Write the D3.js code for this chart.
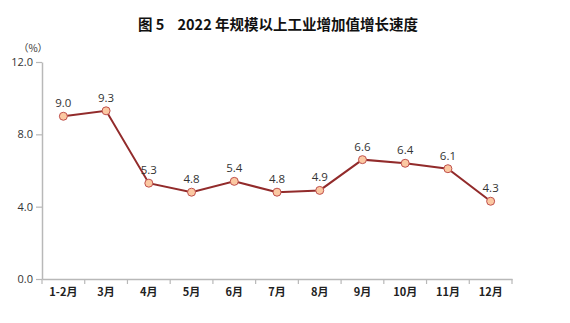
<!DOCTYPE html>
<html>
<head>
<meta charset="utf-8">
<script src="https://cdn.jsdelivr.net/npm/d3@7"></script>
<style>
  html, body { margin: 0; padding: 0; background: #fff; }
  svg { display: block; }
</style>
</head>
<body>
<div id="chart"></div>
<script>
// Monthly growth of value added of industry above designated size, 2022 (%)
const months = ["1-2月", "3月", "4月", "5月", "6月", "7月", "8月", "9月", "10月", "11月", "12月"];
const growth = [9.0, 9.3, 5.3, 4.8, 5.4, 4.8, 4.9, 6.6, 6.4, 6.1, 4.3];
const yTicks = [0, 4, 8, 12];

const W = 570, H = 323;
const margin = { top: 62, right: 58, bottom: 44, left: 42 };

const svg = d3.select("#chart").append("svg")
  .attr("width", W).attr("height", H);

const x = d3.scaleBand().domain(months)
  .range([margin.left, W - margin.right]);
const y = d3.scaleLinear().domain([0, 12])
  .range([H - margin.bottom, margin.top]);

const axisColor = "#b8b8b8";
const textColor = "#333";

// Title
svg.append("text")
  .attr("x", 278).attr("y", 30)
  .attr("text-anchor", "middle")
  .attr("font-family", "'Noto Sans CJK SC', sans-serif")
  .attr("font-weight", 700)
  .attr("font-size", 14.5)
  .attr("fill", "#111")
  .style("white-space", "pre")
  .text("图 5    2022 年规模以上工业增加值增长速度");

// Unit
svg.append("text")
  .attr("x", 33).attr("y", 52)
  .attr("text-anchor", "middle")
  .attr("font-family", "'Noto Sans CJK SC', sans-serif")
  .attr("font-size", 10)
  .attr("fill", textColor)
  .text("（%）");

// Y axis
const yAxis = svg.append("g")
  .attr("transform", `translate(${margin.left},0)`)
  .call(d3.axisLeft(y).tickValues(yTicks).tickFormat(d3.format(".1f")).tickSize(6).tickSizeOuter(0));
yAxis.select(".domain").attr("stroke", axisColor).attr("stroke-width", 1.5);
yAxis.selectAll(".tick line").attr("stroke", axisColor).attr("stroke-width", 1.2);
yAxis.selectAll(".tick text")
  .attr("x", -9)
  .attr("fill", textColor)
  .attr("font-family", "'Open Sans', 'Noto Sans', sans-serif")
  .attr("font-size", 11);

// X axis with ticks on band boundaries
const xBase = y(0);
const xAxis = svg.append("g")
  .attr("transform", `translate(0,${xBase})`)
  .call(d3.axisBottom(x).tickSize(0).tickSizeOuter(0));
xAxis.select(".domain").attr("stroke", axisColor).attr("stroke-width", 1.5);
xAxis.selectAll(".tick text")
  .attr("dy", "1.25em")
  .attr("fill", "#222")
  .attr("font-family", "'Noto Sans CJK SC', sans-serif")
  .attr("font-weight", 600)
  .attr("font-size", 11);

const boundaries = months.map(m => x(m)).concat([x(months[months.length - 1]) + x.bandwidth()]);
svg.append("g").selectAll("line").data(boundaries).join("line")
  .attr("x1", d => d).attr("x2", d => d)
  .attr("y1", xBase).attr("y2", xBase + 5)
  .attr("stroke", axisColor).attr("stroke-width", 1.2);

// Line
const cx = d => x(d.m) + x.bandwidth() / 2;
const pts = months.map((m, i) => ({ m, v: growth[i] }));

svg.append("path")
  .datum(pts)
  .attr("fill", "none")
  .attr("stroke", "#922b2b")
  .attr("stroke-width", 2)
  .attr("d", d3.line().x(cx).y(d => y(d.v)));

svg.append("g").selectAll("circle").data(pts).join("circle")
  .attr("cx", cx).attr("cy", d => y(d.v))
  .attr("r", 4)
  .attr("fill", "#fbc8a2")
  .attr("stroke", "#c0504d")
  .attr("stroke-width", 1);

// Value labels
svg.append("g").selectAll("text").data(pts).join("text")
  .attr("x", cx).attr("y", d => y(d.v) - 9)
  .attr("text-anchor", "middle")
  .attr("font-family", "'Open Sans', 'Noto Sans', sans-serif")
  .attr("font-size", 11.5)
  .attr("fill", textColor)
  .text(d => d.v.toFixed(1));
</script>
</body>
</html>
